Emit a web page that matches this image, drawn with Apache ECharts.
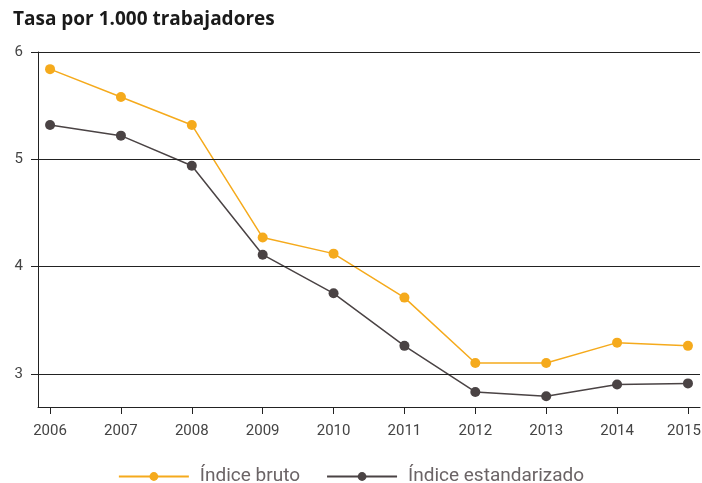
<!DOCTYPE html>
<html>
<head>
<meta charset="utf-8">
<script src="https://cdn.jsdelivr.net/npm/echarts@6/dist/echarts.min.js"></script>
<style>
  html, body { margin: 0; padding: 0; background: #fff; }
  #main { width: 702px; height: 483px; }
</style>
</head>
<body>
<div id="main"></div>
<script>
var years = [2006, 2007, 2008, 2009, 2010, 2011, 2012, 2013, 2014, 2015];
var bruto = [5.84, 5.58, 5.32, 4.27, 4.12, 3.71, 3.10, 3.10, 3.29, 3.26];
var estandarizado = [5.32, 5.22, 4.94, 4.11, 3.75, 3.26, 2.83, 2.79, 2.90, 2.91];
var yTicks = [3, 4, 5, 6];

var chart = echarts.init(document.getElementById('main'));

function pairs(vals) {
  return years.map(function (y, i) { return [y, vals[i]]; });
}

var labelFont = 'Roboto';

var option = {
  animation: false,
  title: {
    text: 'Tasa por 1.000 trabajadores',
    left: 8,
    top: 5,
    textStyle: { fontFamily: 'Open Sans', fontWeight: 'bold', fontSize: 19, color: '#1a1a1a' }
  },
  legend: {
    bottom: -3,
    left: 'center',
    padding: 0,
    itemWidth: 70,
    itemHeight: 11,
    itemGap: 26,
    textStyle: { fontFamily: labelFont, fontSize: 19, color: '#6b6466', padding: [0, 0, 0, 6] },
    data: ['Índice bruto', 'Índice estandarizado']
  },
  grid: { left: 38, right: 2, top: 52, bottom: 76, outerBoundsMode: 'none' },
  xAxis: {
    type: 'value',
    min: 2005.83,
    max: 2015.17,
    axisLine: { show: true, onZero: false, lineStyle: { color: '#222', width: 1 } },
    axisTick: { show: true, length: 7, customValues: years, lineStyle: { color: '#222' } },
    axisLabel: {
      customValues: years,
      margin: 17,
      fontFamily: labelFont,
      fontSize: 15,
      color: '#444',
      formatter: function (v) {
        return v === years[years.length - 1] ? '{last|' + v + '}' : String(v);
      },
      rich: {
        last: { fontFamily: labelFont, fontSize: 15, color: '#444', padding: [0, 8, 0, 0] }
      }
    },
    splitLine: { show: false }
  },
  yAxis: {
    type: 'value',
    min: 2.69,
    max: 6,
    axisLine: { show: true, lineStyle: { color: '#222', width: 1 } },
    axisTick: { show: true, length: 7, customValues: yTicks, lineStyle: { color: '#222' } },
    axisLabel: {
      customValues: yTicks,
      margin: 15,
      fontFamily: labelFont,
      fontSize: 15,
      color: '#444'
    },
    splitLine: { show: false }
  },
  series: [
    {
      name: 'grid',
      type: 'line',
      data: [],
      silent: true,
      markLine: {
        symbol: 'none',
        silent: true,
        label: { show: false },
        lineStyle: { color: '#222', width: 1, type: 'solid' },
        data: yTicks.map(function (t) { return { yAxis: t }; })
      }
    },
    {
      name: 'Índice bruto',
      type: 'line',
      data: pairs(bruto),
      symbol: 'circle',
      symbolSize: 10,
      itemStyle: { color: '#f5aa1c' },
      lineStyle: { color: '#f5aa1c', width: 1.5 },
      z: 3
    },
    {
      name: 'Índice estandarizado',
      type: 'line',
      data: pairs(estandarizado),
      symbol: 'circle',
      symbolSize: 10,
      itemStyle: { color: '#4a4344' },
      lineStyle: { color: '#4a4344', width: 1.5 },
      z: 3
    }
  ]
};

chart.setOption(option);
</script>
</body>
</html>
